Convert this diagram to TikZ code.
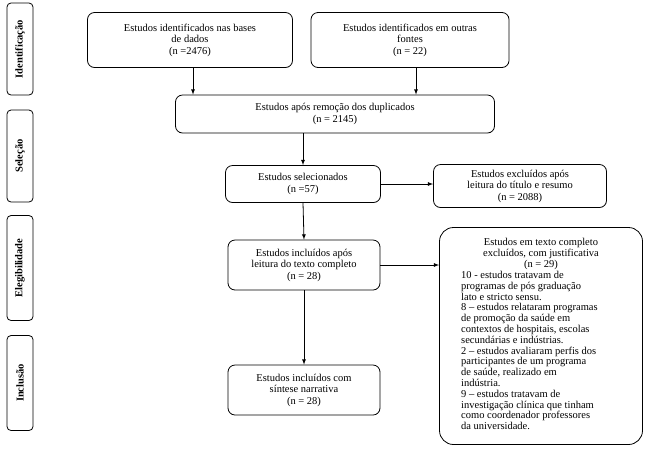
\documentclass[tikz,border=0pt]{standalone}
\usepackage{fontspec}
\setmainfont{Liberation Serif}
\begin{document}
\begin{tikzpicture}[x=1pt,y=-1pt,
 box/.style={draw,rounded corners=7pt,thick,align=center,font=\fontsize{10.5}{11.5}\selectfont,inner sep=0pt},
 side/.style={draw,rounded corners=4pt,thick,minimum width=26pt},
 stxt/.style={rotate=90,font=\fontsize{10.5}{11}\selectfont\bfseries},
 arr/.style={-latex,thick}]
\useasboundingbox (0,0) rectangle (650,451);
\node[side,minimum height=92pt] (s1) at (20,49) {};
\node[stxt] (t1) at (s1) {Identificação};
\node[side,minimum height=92pt] (s2) at (20,156) {};
\node[stxt] (t2) at (s2) {Seleção};
\node[side,minimum height=105pt] (s3) at (20,268) {};
\node[stxt] (t3) at (s3) {Elegibilidade};
\node[side,minimum height=95pt] (s4) at (20,383) {};
\node[stxt] (t4) at (s4) {Inclusão};
\node[box,minimum width=205pt,minimum height=55pt] (a) at (190,40) {Estudos identificados nas bases\\de dados\\(n =2476)};
\node[box,minimum width=198pt,minimum height=55pt] (b) at (410,40) {Estudos identificados em outras\\fontes\\(n = 22)};
\node[box,minimum width=319pt,minimum height=38pt] (c) at (335,114) {Estudos após remoção dos duplicados\\(n = 2145)};
\node[box,minimum width=155pt,minimum height=37pt] (d) at (303,184) {Estudos selecionados\\(n =57)};
\node[box,minimum width=173pt,minimum height=43pt] (e) at (520,186) {Estudos excluídos após\\leitura do título e resumo\\(n = 2088)};
\node[box,minimum width=152pt,minimum height=50pt] (f) at (304,265) {Estudos incluídos após\\leitura do texto completo\\(n = 28)};
\node[box,minimum width=152pt,minimum height=50pt] (h) at (304,390) {Estudos incluídos com\\síntese narrativa\\(n = 28)};
\node[draw,rounded corners=14pt,thick,minimum width=203pt,minimum height=217pt] (g) at (541,336) {};
\node[font=\fontsize{10.5}{10.8}\selectfont,align=center,anchor=north,inner sep=0pt] (gt) at (541,238) {Estudos em texto completo\\excluídos, com justificativa\\(n = 29)};
\node[font=\fontsize{10.5}{10.8}\selectfont,align=left,anchor=north west,inner sep=0pt] (gl) at (461,271) {10 - estudos tratavam de\\programas de pós graduação\\lato e stricto sensu.\\8 – estudos relataram programas\\de promoção da saúde em\\contextos de hospitais, escolas\\secundárias e indústrias.\\2 – estudos avaliaram perfis dos\\participantes de um programa\\de saúde, realizado em\\indústria.\\9 – estudos tratavam de\\investigação clínica que tinham\\como coordenador professores\\da universidade.};
\draw[arr] (a.south -| 193,0) -- (c.north -| 193,0);
\draw[arr] (b.south -| 416,0) -- (c.north -| 416,0);
\draw[arr] (c.south -| d.north) -- (d.north);
\draw[arr] (d.east) -- (e.west |- d.east);
\draw[arr] (d.south) -- (f.north);
\draw[arr] (f.east) -- (g.west |- f.east);
\draw[arr] (f.south) -- (h.north);
\end{tikzpicture}
\end{document}
